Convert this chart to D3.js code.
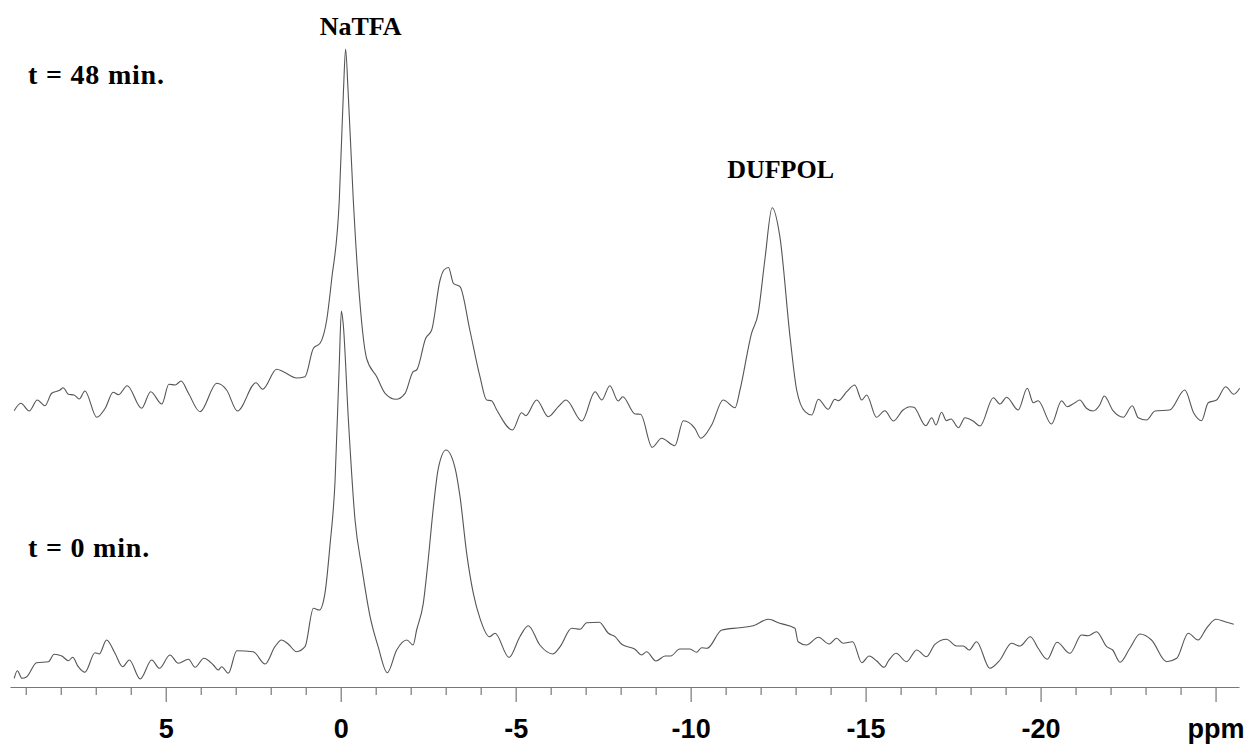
<!DOCTYPE html>
<html>
<head>
<meta charset="utf-8">
<script src="https://cdn.jsdelivr.net/npm/d3@7/dist/d3.min.js"></script>
<style>
  body { margin: 0; background: #fff; }
  svg { display: block; }
</style>
</head>
<body>
<svg id="chart" width="1252" height="746"></svg>
<script>
// 19F NMR spectra, chemical shift (ppm) vs intensity (a.u., relative to each trace baseline)
var trace48 = [
  [9.33,-8.7],[9.14,-1.3],[8.90,-9],[8.67,2],[8.45,-3.7],[8.26,8.7],[8.02,12],[7.93,14.3],
  [7.78,7.7],[7.62,7],[7.47,3],[7.31,11],[6.97,-15.3],[6.73,-6.3],[6.50,9.7],[6.35,7.3],
  [6.10,16.3],[5.69,-6.3],[5.43,10.3],[5.11,-2],[4.91,17.7],[4.73,17],[4.56,21],[4.35,8.7],
  [4.02,-9.7],[3.54,18.7],[3.26,12],[2.95,-9],[2.42,19.3],[2.23,12.7],[1.83,32.7],[1.64,30.3],
  [1.26,24],[1.02,25.3],[0.78,53.7],[0.59,58.7],[0.40,82],[0.26,122],[0.04,202],[-0.08,312],
  [-0.14,353],[-0.21,312],[-0.36,202],[-0.50,122],[-0.74,43.7],[-1.03,25.3],[-1.27,8.7],
  [-1.58,2.7],[-1.84,8.7],[-2.07,30.3],[-2.17,32],[-2.43,63.7],[-2.60,72],[-2.84,122],
  [-2.95,132],[-3.08,134.5],[-3.22,118.7],[-3.41,115.3],[-3.69,72],[-3.98,25.3],[-4.17,2],
  [-4.31,1.3],[-4.46,-8],[-4.91,-28],[-5.17,-10.7],[-5.29,-13.7],[-5.60,2],[-5.93,-14.7],
  [-6.22,-4.7],[-6.44,2],[-6.89,-19],[-7.27,10.3],[-7.46,2],[-7.69,16.3],[-7.93,1],[-8.06,5.3],
  [-8.41,-12],[-8.57,-12.3],[-8.90,-45.3],[-9.17,-36.3],[-9.55,-43.7],[-9.79,-18.7],[-10.12,-26.3],
  [-10.29,-36.3],[-10.60,-23],[-10.93,2],[-11.27,-5.7],[-11.41,12],[-11.74,68.7],[-11.93,88.7],
  [-12.12,142],[-12.33,194.3],[-12.55,165.3],[-12.84,65.3],[-13.03,12],[-13.27,-9.7],[-13.46,-13],
  [-13.65,2.7],[-13.93,-7.3],[-14.12,2.7],[-14.22,1.3],[-14.46,10.3],[-14.69,17],[-14.89,2],
  [-15.03,7],[-15.31,-15.3],[-15.55,-8.7],[-15.79,-19],[-16.07,-8],[-16.27,-4.7],[-16.38,-5.3],
  [-16.72,-23.7],[-16.89,-15.7],[-17.01,-23],[-17.17,-10.3],[-17.31,-18.7],[-17.44,-17],
  [-17.65,-25.7],[-17.84,-15.7],[-18.07,-19],[-18.27,-24],[-18.65,4.3],[-18.84,-2],[-19.03,4.7],
  [-19.36,-8],[-19.62,13.7],[-19.79,-0.7],[-19.93,1.3],[-20.31,-22],[-20.60,1.3],[-20.76,-4.7],
  [-20.98,-0.7],[-21.12,2],[-21.31,-6.3],[-21.50,-9],[-21.69,-3],[-21.82,6],[-22.07,-8.7],
  [-22.36,-15.3],[-22.62,-3.7],[-22.79,-15.7],[-23.03,-18],[-23.27,-9],[-23.69,-8],[-24.12,12],
  [-24.38,-11.3],[-24.60,-18.7],[-24.79,-0.7],[-25.03,2],[-25.29,15.3],[-25.52,7.7],[-25.69,13.7]
];

var trace0 = [
  [9.33,11.7],[9.24,19.3],[9.11,11.7],[8.97,13.3],[8.69,27.3],[8.35,28.3],[8.19,35.7],[7.97,34],
  [7.78,29.3],[7.66,32.7],[7.50,23.3],[7.31,17.7],[7.02,37.3],[6.90,36],[6.69,50],[6.45,36.7],
  [6.23,23.3],[6.04,30],[5.73,11],[5.40,30],[5.18,21.7],[4.88,35],[4.64,26.7],[4.35,30.7],
  [4.16,22.7],[3.91,31.7],[3.64,25],[3.50,20],[3.40,23.3],[3.21,16.7],[2.97,39.3],[2.50,38.3],
  [2.16,26],[1.88,43.3],[1.69,50],[1.50,46],[1.26,38.3],[1.02,43.3],[0.78,81.7],[0.61,80],
  [0.45,96.7],[0.31,143.3],[0.16,210],[0.04,326.7],[-0.02,379],[-0.07,366.7],[-0.22,270],
  [-0.41,170],[-0.60,123.3],[-0.84,73.3],[-1.07,43.3],[-1.33,17.3],[-1.60,40],[-1.89,50],
  [-2.07,45],[-2.17,60],[-2.36,86.7],[-2.50,130],[-2.65,183.3],[-2.79,221.7],[-3.01,240],
  [-3.27,221.7],[-3.41,193.3],[-3.60,136.7],[-3.79,96.7],[-3.98,71.7],[-4.25,53.3],[-4.41,56.7],
  [-4.81,32.5],[-5.12,53.3],[-5.36,64.3],[-5.69,45],[-6.06,36],[-6.27,43.3],[-6.60,61.7],
  [-6.84,60.7],[-7.03,67.3],[-7.39,67.7],[-7.65,56.7],[-7.84,53.3],[-8.03,45.7],[-8.41,40.7],
  [-8.60,35],[-8.74,38.3],[-9.01,29],[-9.27,34],[-9.43,34],[-9.69,41],[-9.98,41],[-10.17,37.7],
  [-10.31,42.3],[-10.47,41.7],[-10.89,60],[-11.41,62.3],[-11.79,64.3],[-12.22,70.7],[-12.55,66.7],
  [-12.98,61.7],[-13.07,48.3],[-13.31,45],[-13.65,52.7],[-13.96,46],[-14.17,51.7],[-14.36,46.7],
  [-14.63,48.3],[-14.89,27.3],[-15.10,34],[-15.31,29.3],[-15.53,22.7],[-15.65,29],[-15.87,36.7],
  [-16.17,28.3],[-16.46,40],[-16.74,33.3],[-16.98,45.7],[-17.31,50.7],[-17.60,44],[-17.79,44],
  [-17.96,40],[-18.17,48.3],[-18.55,21.7],[-18.84,30],[-19.17,46.7],[-19.41,44],[-19.71,53.3],
  [-19.93,41.7],[-20.19,30.7],[-20.47,47.7],[-20.84,36.7],[-21.17,55],[-21.36,54.3],[-21.60,58.3],
  [-21.89,43.3],[-22.06,40],[-22.27,27.7],[-22.55,41.7],[-22.84,56],[-23.17,50],[-23.60,28.3],
  [-23.89,31.7],[-24.22,56.7],[-24.50,50],[-24.74,61.7],[-25.01,70.7],[-25.27,68.3],[-25.52,65.7]
];

var traceOffsets = [288, 0];          // vertical stacking of the two spectra
var traceLabels = ["t = 48 min.", "t = 0 min."];
var peakLabels = ["NaTFA", "DUFPOL"];
var peakLabelPpm = [-0.57, -12.57];
var majorTicks = [5, 0, -5, -10, -15, -20, -25];
var majorTickLabels = ["5", "0", "-5", "-10", "-15", "-20", "ppm"];
var allTicks = d3.range(9, -26, -1);

var svg = d3.select("#chart");

var x = d3.scaleLinear().domain([9.45, -25.67]).range([10, 1239]);
var y = d3.scaleLinear().domain([0, 640]).range([690, 50]);

var line = d3.line()
  .x(function(d){ return x(d[0]); })
  .y(function(d){ return y(d[1]); })
  .curve(d3.curveMonotoneX);

var traces = [trace48, trace0];
traces.forEach(function(tr, i){
  var off = traceOffsets[i];
  svg.append("path")
    .datum(tr.map(function(d){ return [d[0], d[1] + off]; }))
    .attr("d", line)
    .attr("fill", "none")
    .attr("stroke", "#555")
    .attr("stroke-width", 1.1);
});

// axis
var axisY = 687;
var ax = svg.append("g")
  .attr("transform", "translate(0," + axisY + ")")
  .call(d3.axisBottom(x).tickValues(allTicks).tickSizeOuter(0).tickFormat(function(d){
    var k = majorTicks.indexOf(d);
    return k >= 0 ? majorTickLabels[k] : "";
  }));
ax.select(".domain").attr("stroke", "#777").attr("stroke-width", 1.2);
ax.selectAll(".tick line")
  .attr("stroke", "#777")
  .attr("stroke-width", 1.2)
  .attr("y2", function(d){ return majorTicks.indexOf(d) >= 0 ? 15 : 8; });
ax.selectAll(".tick text")
  .attr("y", 51)
  .attr("dy", 0)
  .attr("fill", "#000")
  .style("font-family", "'Liberation Sans', Arial, sans-serif")
  .style("font-weight", "bold")
  .style("font-size", "27px");

// peak labels, placed above the apex of the t = 48 min trace
var labelGap = [14, 30];
svg.selectAll(".peak").data(peakLabels).enter().append("text")
  .attr("class", "peak")
  .attr("x", function(d, i){ return x(peakLabelPpm[i]); })
  .attr("y", function(d, i){
    var near = trace48.filter(function(p){ return Math.abs(p[0] - peakLabelPpm[i]) < 1; });
    var pk = d3.max(near, function(p){ return p[1]; });
    return y(pk + traceOffsets[0]) - labelGap[i];
  })
  .attr("text-anchor", "middle")
  .style("font-family", "'Liberation Serif', 'Times New Roman', serif")
  .style("font-weight", "bold")
  .style("font-size", "26px")
  .text(function(d){ return d; });

// time labels
svg.selectAll(".tlabel").data(traceLabels).enter().append("text")
  .attr("class", "tlabel")
  .attr("x", 28)
  .attr("y", function(d, i){ return i === 0 ? 84 : 557; })
  .style("font-family", "'Liberation Serif', 'Times New Roman', serif")
  .style("font-weight", "bold")
  .style("font-size", "28px")
  .style("letter-spacing", "0.8px")
  .text(function(d){ return d; });
</script>
</body>
</html>
